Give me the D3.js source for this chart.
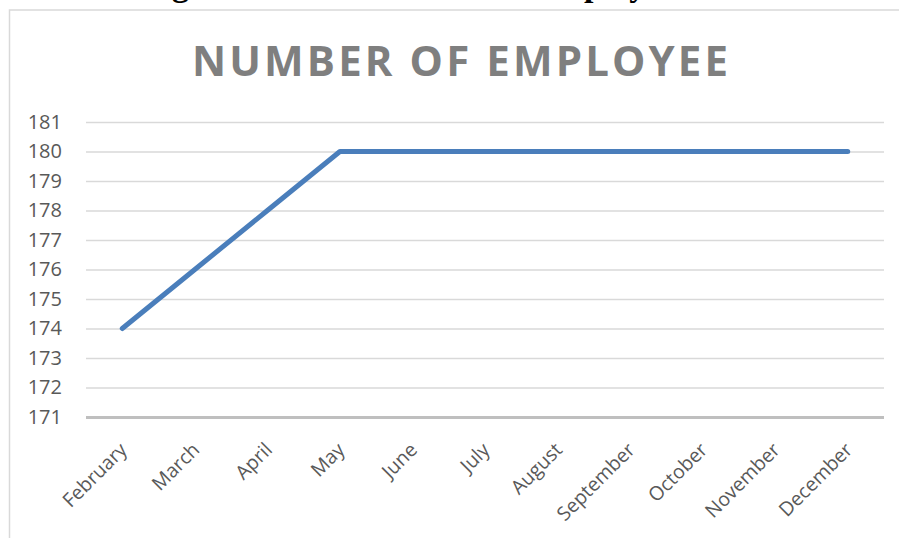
<!DOCTYPE html>
<html>
<head>
<meta charset="utf-8">
<script src="https://cdn.jsdelivr.net/npm/d3@7"></script>
<style>
  html, body { margin: 0; padding: 0; background: #fff; }
  svg { display: block; }
</style>
</head>
<body>
<svg id="chart" width="899" height="538"></svg>
<script>
// Monthly head count
const months = ["February", "March", "April", "May", "June", "July", "August",
                "September", "October", "November", "December"];
const employees = [174, 176, 178, 180, 180, 180, 180, 180, 180, 180, 180];
const yTicks = [171, 172, 173, 174, 175, 176, 177, 178, 179, 180, 181];
const chartTitle = "NUMBER OF EMPLOYEE";

const svg = d3.select("#chart");
const W = 899, H = 538;

// Caption line of the surrounding page, mostly above the visible area
const caption = svg.append("g")
  .attr("font-family", "Liberation Serif, Times New Roman, serif")
  .attr("font-weight", "bold")
  .attr("font-size", 34)
  .attr("fill", "#000");
const capA = caption.append("text").attr("y", -4).text("Figure");
capA.attr("x", 172 - capA.node().getSubStringLength(0, 2));
const capB = caption.append("text").attr("y", -4).text("Employee");
capB.attr("x", 584 - capB.node().getSubStringLength(0, 2));

// Chart frame
svg.append("rect")
  .attr("x", 9.5).attr("y", 10)
  .attr("width", W + 20).attr("height", H + 20)
  .attr("fill", "#fff")
  .attr("stroke", "#d9d9d9")
  .attr("stroke-width", 1.5);

const plot = { left: 86, right: 884, top: 122, bottom: 417 };

const x = d3.scaleBand()
  .domain(months)
  .range([plot.left, plot.right]);

const y = d3.scaleLinear()
  .domain([171, 181])
  .range([plot.bottom, plot.top]);

// Title
svg.append("text")
  .attr("x", 192).attr("y", 76)
  .attr("textLength", 536)
  .attr("lengthAdjust", "spacing")
  .attr("font-family", "Open Sans, sans-serif")
  .attr("font-weight", "bold")
  .attr("font-size", 42)
  .attr("fill", "#7f7f7f")
  .text(chartTitle);

// Horizontal gridlines
const yAxis = d3.axisLeft(y)
  .tickValues(yTicks)
  .tickSize(-(plot.right - plot.left))
  .tickPadding(24)
  .tickFormat(d3.format("d"));

const gy = svg.append("g")
  .attr("transform", `translate(${plot.left},0)`)
  .call(yAxis);
gy.select(".domain").remove();
gy.selectAll(".tick line")
  .attr("stroke", d => d === 171 ? "#bfbfbf" : "#d9d9d9")
  .attr("stroke-width", d => d === 171 ? 3 : 1.5);
gy.selectAll(".tick text")
  .attr("font-family", "Open Sans, sans-serif")
  .attr("font-size", 20)
  .attr("fill", "#595959");

// Category labels
const xAxis = d3.axisBottom(x).tickSize(0).tickPadding(0);
const gx = svg.append("g")
  .attr("transform", `translate(0,${plot.bottom})`)
  .call(xAxis);
gx.select(".domain").remove();
gx.selectAll(".tick text")
  .attr("font-family", "Open Sans, sans-serif")
  .attr("font-size", 19.5)
  .attr("fill", "#595959")
  .attr("text-anchor", "end")
  .attr("dy", null)
  .attr("y", null)
  .attr("transform", "translate(6,34) rotate(-45)");

// Series line
const line = d3.line()
  .x((d, i) => x(months[i]) + x.bandwidth() / 2)
  .y(d => y(d));

svg.append("path")
  .datum(employees)
  .attr("d", line)
  .attr("fill", "none")
  .attr("stroke", "#4a7ebb")
  .attr("stroke-width", 5)
  .attr("stroke-linecap", "round")
  .attr("stroke-linejoin", "round");
</script>
</body>
</html>
